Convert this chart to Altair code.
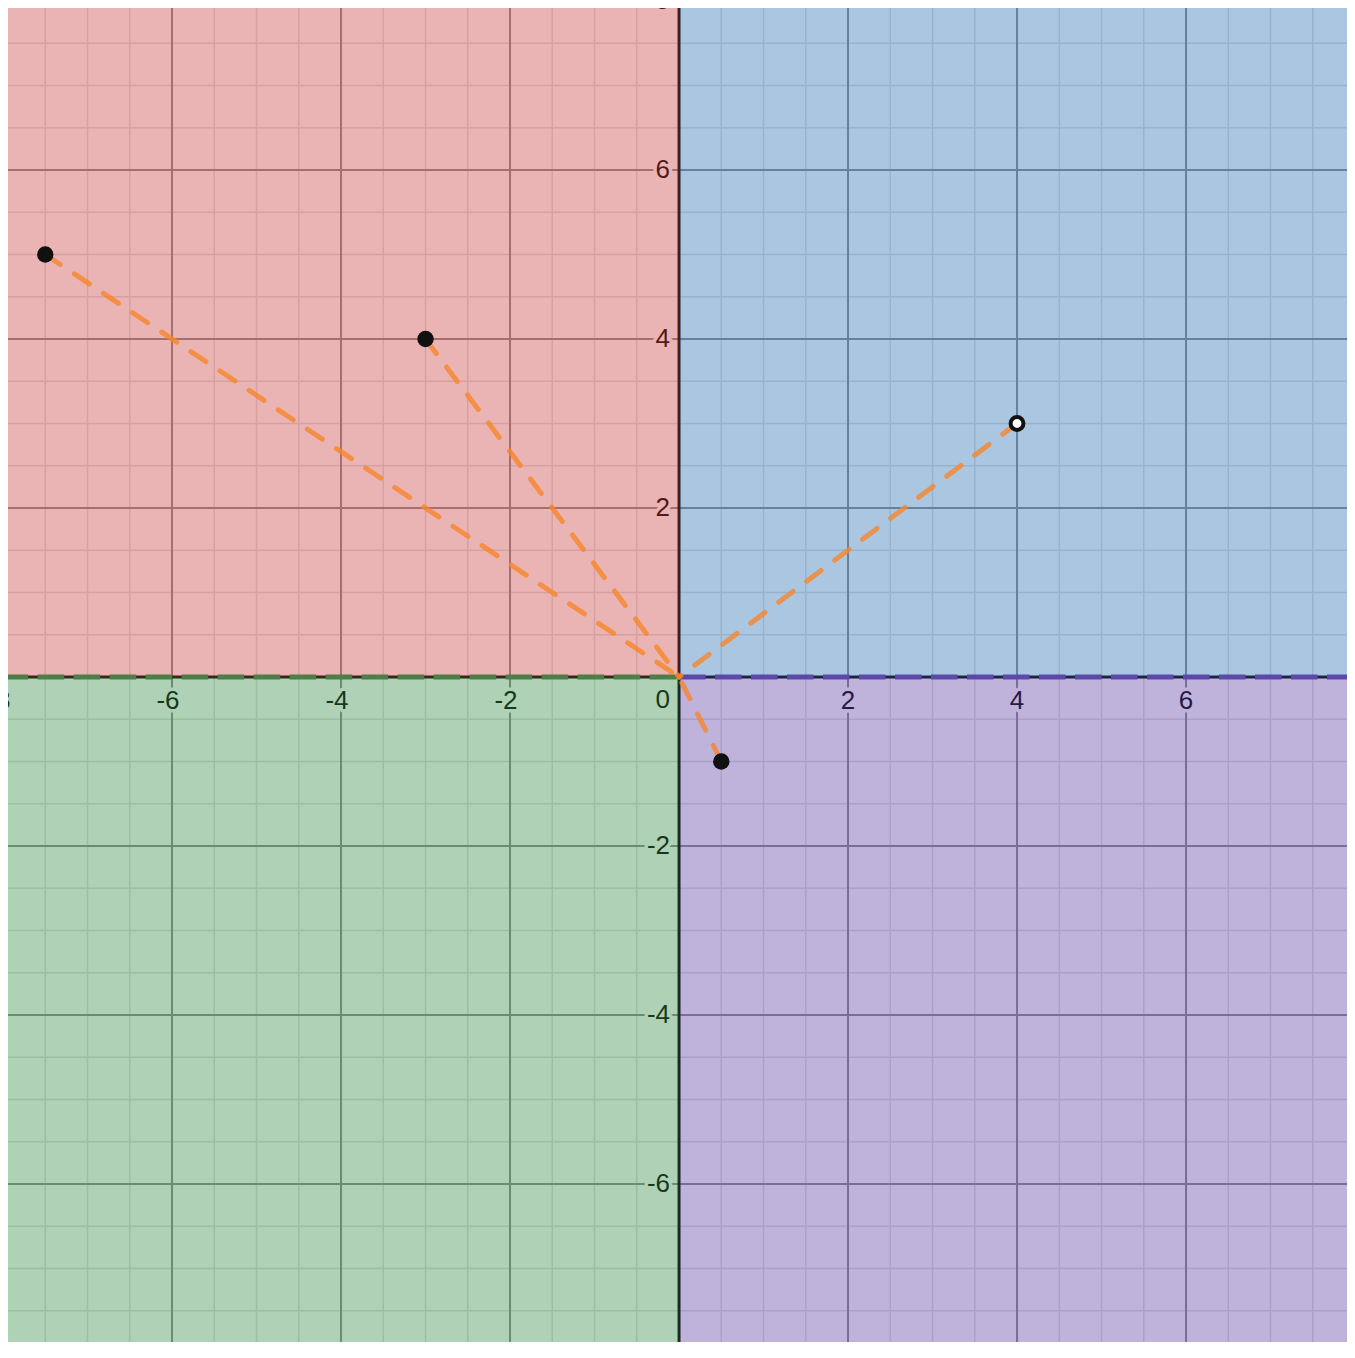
import altair as alt
import pandas as pd

# ---- view (plot area mapped so positions match the reference) ----
X_DOMAIN = [-7.941, 7.905]
Y_DOMAIN = [-7.870, 7.917]
W, H = 1339, 1334

# ---- data ----
x_ticks_neg = [-8, -6, -4, -2]
x_ticks_pos = [2, 4, 6, 8]
y_ticks = [-8, -6, -4, -2, 2, 4, 6, 8]
grid_halves = [i / 2 for i in range(-18, 19)]
minor_lines = [v for v in grid_halves if v % 2 != 0]
major_lines = [v for v in grid_halves if v % 2 == 0 and v != 0]

pt_x = [-7.5, -3, 4, 0.5]
pt_y = [5, 4, 3, -1]
pt_open = [False, False, True, False]

quad_names = ["Q2", "Q1", "Q3", "Q4"]
quad_x = [-9, 0, -9, 0]
quad_x2 = [0, 9, 0, 9]
quad_y = [0, 0, -9, -9]
quad_y2 = [9, 9, 0, 0]
quad_colors = ["#c74440", "#2d70b3", "#388c46", "#6042a6"]

bound_x = [-8.016, 0]
bound_x2 = [0, 9]
bound_colors = ["#4e7d48", "#5c48a8"]

FONT = "Liberation Sans"
FS = 26

xs = alt.Scale(domain=X_DOMAIN, nice=False, zero=False)
ys = alt.Scale(domain=Y_DOMAIN, nice=False, zero=False)


def X(f):
    return alt.X(f, type="quantitative", scale=xs, axis=None)


def Y(f):
    return alt.Y(f, type="quantitative", scale=ys, axis=None)


minor_df = pd.DataFrame({"v": minor_lines})
major_df = pd.DataFrame({"v": major_lines})

minor_v = alt.Chart(minor_df).mark_rule(color="#e0e0e0", strokeWidth=1.5, clip=True).encode(x=X("v"))
minor_h = alt.Chart(minor_df).mark_rule(color="#e0e0e0", strokeWidth=1.5, clip=True).encode(y=Y("v"))
major_v = alt.Chart(major_df).mark_rule(color="#8c8c8c", strokeWidth=2, clip=True).encode(x=X("v"))
major_h = alt.Chart(major_df).mark_rule(color="#8c8c8c", strokeWidth=2, clip=True).encode(y=Y("v"))

zero_df = pd.DataFrame({"v": [0]})
axis_v = alt.Chart(zero_df).mark_rule(color="#000000", strokeWidth=3, clip=True).encode(x=X("v"))
axis_h = alt.Chart(zero_df).mark_rule(color="#000000", strokeWidth=3, clip=True).encode(y=Y("v"))


def label_layers(df, align, dx, dy):
    base = alt.Chart(df)
    halo = base.mark_text(
        align=align, baseline="middle", dx=dx, dy=dy, font=FONT, fontSize=FS,
        fill="white", stroke="white", strokeWidth=7, strokeJoin="round", clip=True,
    ).encode(x=X("x"), y=Y("y"), text="t:N")
    txt = base.mark_text(
        align=align, baseline="middle", dx=dx, dy=dy, font=FONT, fontSize=FS,
        fill="#000000", clip=True,
    ).encode(x=X("x"), y=Y("y"), text="t:N")
    return [halo, txt]


xneg_df = pd.DataFrame({"x": x_ticks_neg, "y": [0] * len(x_ticks_neg), "t": [str(v) for v in x_ticks_neg]})
xpos_df = pd.DataFrame({"x": x_ticks_pos, "y": [0] * len(x_ticks_pos), "t": [str(v) for v in x_ticks_pos]})
ylab_df = pd.DataFrame({"x": [0] * len(y_ticks), "y": y_ticks, "t": [str(v) for v in y_ticks]})
zero_lab_df = pd.DataFrame({"x": [0], "y": [0], "t": ["0"]})

labels = []
labels += label_layers(xneg_df, "right", 7.5, 24)
labels += label_layers(xpos_df, "center", 0, 24)
labels += label_layers(ylab_df, "right", -9, 0)
labels += label_layers(zero_lab_df, "right", -9, 23)

quad_df = pd.DataFrame({"name": quad_names, "x": quad_x, "x2": quad_x2, "y": quad_y, "y2": quad_y2})
quads = alt.Chart(quad_df).mark_rect(opacity=0.4, clip=True).encode(
    x=X("x"), x2="x2", y=Y("y"), y2="y2",
    color=alt.Color("name:N", scale=alt.Scale(domain=quad_names, range=quad_colors), legend=None),
)

bounds = []
for bx, bx2, bc in zip(bound_x, bound_x2, bound_colors):
    bdf = pd.DataFrame({"x": [bx], "x2": [bx2], "y": [0]})
    bounds.append(
        alt.Chart(bdf).mark_rule(color=bc, strokeWidth=5, strokeDash=[26.5, 9.5], clip=True).encode(
            x=X("x"), x2="x2", y=Y("y")
        )
    )

seg_df = pd.DataFrame({"x": pt_x, "y": pt_y, "x2": [0] * len(pt_x), "y2": [0] * len(pt_y)})
segs = alt.Chart(seg_df).mark_rule(
    color="#f7862a", opacity=0.8, strokeWidth=5, strokeDash=[18, 17], strokeCap="round", clip=True
).encode(x=X("x"), y=Y("y"), x2="x2", y2="y2")

pts_df = pd.DataFrame({"x": pt_x, "y": pt_y, "open": pt_open})
filled_pts = alt.Chart(pts_df).transform_filter("!datum.open").mark_circle(
    color="#111111", size=270, opacity=1, clip=True
).encode(x=X("x"), y=Y("y"))
open_pts = alt.Chart(pts_df).transform_filter("datum.open").mark_circle(
    color="#ffffff", stroke="#111111", strokeWidth=4, size=165, opacity=1, clip=True
).encode(x=X("x"), y=Y("y"))

chart = alt.layer(
    minor_v, minor_h, major_v, major_h, axis_v, axis_h, *labels,
    quads, *bounds, segs, filled_pts, open_pts,
).properties(
    width=W, height=H, autosize=alt.AutoSizeParams(type="none"), padding=0, background="white"
).configure_view(stroke=None)

chart.save("out.html", embed_options={"renderer": "svg", "actions": False})
